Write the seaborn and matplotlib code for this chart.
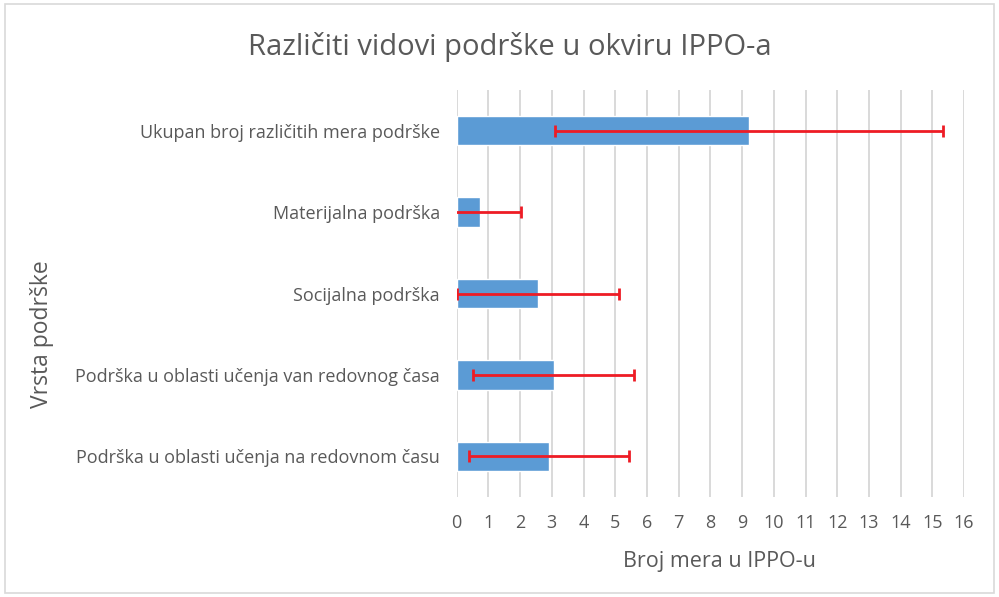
import seaborn as sns
import numpy as np
import pandas as pd
from matplotlib import pyplot as plt
from matplotlib.patches import Rectangle

# values (mean and error half-width)
categories = [
    'Ukupan broj različitih mera podrške',
    'Materijalna podrška',
    'Socijalna podrška',
    'Podrška u oblasti učenja van redovnog časa',
    'Podrška u oblasti učenja na redovnom času',
]
means = [9.21, 0.74, 2.57, 3.06, 2.91]
errors = [6.12, 1.30, 2.56, 2.54, 2.53]
x_ticks = list(range(0, 17))

title = 'Različiti vidovi podrške u okviru IPPO-a'
x_label = 'Broj mera u IPPO-u'
y_label = 'Vrsta podrške'

text_color = '#595959'
bar_color = '#5B9BD5'
err_color = '#EE1C25'
grid_color = '#D9D9D9'

sns.set_theme(style='white')
plt.rcParams['font.family'] = ['Open Sans', 'DejaVu Sans']

df = pd.DataFrame({'category': categories, 'mean': means, 'err': errors})

fig = plt.figure(figsize=(9.99, 5.97), dpi=100)
ax = fig.add_axes([0.4572, 0.1675, 0.5078, 0.6817])

sns.barplot(data=df, x='mean', y='category', orient='h', width=0.36,
            color=bar_color, saturation=1, ax=ax, zorder=2)
ax.errorbar(df['mean'], np.arange(len(df)), xerr=df['err'], fmt='none',
            ecolor=err_color, elinewidth=2, capsize=4, capthick=2, zorder=3)

ax.set_xlim(0, 16)
ax.set_ylim(len(df) - 0.5, -0.5)
ax.set_xticks(x_ticks)
ax.set_xticklabels([str(t) for t in x_ticks])
ax.grid(axis='x', color=grid_color, linewidth=1.4, zorder=0)
ax.set_axisbelow(True)
for s in ax.spines.values():
    s.set_visible(False)

ax.tick_params(axis='x', length=0, pad=12, labelsize=13, labelcolor=text_color)
ax.tick_params(axis='y', length=0, pad=12, labelsize=13, labelcolor=text_color)

ax.set_xlabel('')
ax.set_ylabel('')
fig.text(0.72, 0.059, x_label, ha='center', va='center',
         fontsize=15.5, color=text_color)
fig.text(0.042, 0.44, y_label, rotation=90, ha='center', va='center',
         fontsize=16.5, color=text_color)
fig.text(0.51, 0.922, title, ha='center', va='center', fontsize=21, color=text_color)

# chart border
fig.patches.append(Rectangle((0.005, 0.006), 0.99, 0.987, transform=fig.transFigure,
                             fill=False, edgecolor=grid_color, linewidth=1.2))

fig.savefig('out.png', dpi=100)
